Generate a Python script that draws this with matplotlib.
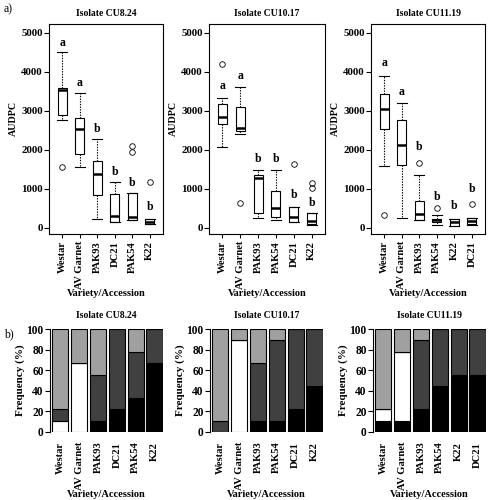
import matplotlib
matplotlib.use('Agg')
import matplotlib.pyplot as plt

plt.rcParams['font.family'] = 'serif'
plt.rcParams['font.serif'] = ['Liberation Serif', 'DejaVu Serif']
plt.rcParams['font.weight'] = 'bold'
plt.rcParams['axes.labelweight'] = 'bold'
plt.rcParams['axes.titleweight'] = 'bold'

isolates = ['Isolate CU8.24', 'Isolate CU10.17', 'Isolate CU11.19']

varieties = [
    ['Westar', 'AV Garnet', 'PAK93', 'DC21', 'PAK54', 'K22'],
    ['Westar', 'AV Garnet', 'PAK93', 'PAK54', 'DC21', 'K22'],
    ['Westar', 'AV Garnet', 'PAK93', 'PAK54', 'K22', 'DC21'],
]

# AUDPC box plot summaries, one list per isolate
whislo = [
    [2770, 1570, 220, 150, 205, 100],
    [2070, 2415, 260, 215, 147, 86],
    [1590, 257, 197, 86, 51, 86],
]
q1 = [
    [2900, 1900, 850, 160, 205, 105],
    [2655, 2485, 380, 275, 150, 90],
    [2540, 1613, 197, 154, 60, 90],
]
med = [
    [3540, 2530, 1385, 316, 274, 160],
    [2845, 2570, 1293, 500, 276, 172],
    [3063, 2128, 352, 197, 154, 172],
]
q3 = [
    [3580, 2810, 1725, 870, 890, 230],
    [3190, 3100, 1353, 948, 543, 388],
    [3441, 2771, 686, 240, 223, 257],
]
whishi = [
    [4500, 3450, 2280, 1190, 890, 230],
    [3345, 3620, 1490, 1490, 543, 388],
    [3887, 3200, 1356, 343, 223, 257],
]
fliers = [
    [[1570], [], [], [], [2100, 1960], [1190]],
    [[4200], [640], [], [], [1640], [1165, 1020]],
    [[326], [], [1673], [523], [], [609]],
]
letters = ['a', 'a', 'b', 'b', 'b', 'b']
letter_y = [
    [4750, 3730, 2530, 1445, 1145, 530],
    [3640, 3900, 1770, 1770, 840, 650],
    [4230, 3475, 2068, 798, 558, 987],
]

# frequency (%) of each class, stacked bottom to top
freq_black = [
    [0, 0, 11.1, 22.2, 33.3, 66.7],
    [0, 0, 11.1, 11.1, 22.2, 44.4],
    [11.1, 11.1, 22.2, 44.4, 55.6, 55.6],
]
freq_white = [
    [11.1, 66.7, 0, 0, 0, 0],
    [0, 88.9, 0, 0, 0, 0],
    [11.1, 66.7, 0, 0, 0, 0],
]
freq_dark = [
    [11.1, 0, 44.4, 77.8, 44.4, 33.3],
    [11.1, 0, 55.6, 77.8, 77.8, 55.6],
    [0, 0, 66.7, 55.6, 44.4, 44.4],
]
freq_light = [
    [77.8, 33.3, 44.4, 0, 22.2, 0],
    [88.9, 11.1, 33.3, 11.1, 0, 0],
    [77.8, 22.2, 11.1, 0, 0, 0],
]
freq_colors = ['#000000', '#ffffff', '#404040', '#a0a0a0']

W, H = 488, 500
fig = plt.figure(figsize=(W / 100, H / 100), dpi=100)

top_lefts = [49, 209, 371]
top_widths = [114, 116, 114]
bot_lefts = [50, 210, 373]
bot_widths = [113, 113, 113]

for i in range(3):
    # ---- a) box plots
    ax = fig.add_axes([top_lefts[i] / W, 1 - 234 / H, top_widths[i] / W, 210 / H])
    stats = []
    for j in range(6):
        stats.append({'whislo': whislo[i][j], 'q1': q1[i][j], 'med': med[i][j],
                      'q3': q3[i][j], 'whishi': whishi[i][j], 'fliers': fliers[i][j]})
    ax.bxp(stats, positions=range(6), widths=0.5, capwidths=0.55, patch_artist=True,
           boxprops=dict(facecolor='white', edgecolor='black', linewidth=0.8),
           whiskerprops=dict(color='black', linestyle=(0, (1.2, 1.2)), linewidth=0.8),
           capprops=dict(color='black', linewidth=0.8),
           medianprops=dict(color='black', linewidth=1.8),
           flierprops=dict(marker='o', markersize=4, markerfacecolor='none',
                           markeredgecolor='black', markeredgewidth=0.6))
    for j in range(6):
        ax.text(j, letter_y[i][j], letters[j], ha='center', va='center', fontsize=8.5)
    ax.set_xlim(-0.75, 5.75)
    ax.set_ylim(-154, 5230)
    ax.set_yticks([0, 1000, 2000, 3000, 4000, 5000])
    ax.set_xticks(range(6))
    ax.set_xticklabels(varieties[i], rotation=90)
    ax.tick_params(axis='y', labelsize=7.8, length=3.5, width=0.8, pad=1)
    ax.tick_params(axis='x', labelsize=7.6, length=3, width=0.8, pad=2)
    ax.set_ylabel('AUDPC', fontsize=7.2)
    ax.yaxis.set_label_coords(-0.27, 0.55)
    ax.set_xlabel('Variety/Accession', fontsize=7.5, labelpad=0)
    ax.set_title(isolates[i], fontsize=6.9, pad=6)
    for s in ax.spines.values():
        s.set_linewidth(0.8)

    # ---- b) stacked frequency bars
    bx = fig.add_axes([bot_lefts[i] / W, 1 - 432 / H, bot_widths[i] / W, 103 / H])
    bottom = [0] * 6
    for vals, c in zip([freq_black[i], freq_white[i], freq_dark[i], freq_light[i]], freq_colors):
        bx.bar(range(6), vals, width=0.86, bottom=bottom, color=c,
               edgecolor='black', linewidth=0.8)
        bottom = [b + v for b, v in zip(bottom, vals)]
    bx.set_xlim(-0.55, 5.45)
    bx.set_ylim(0, 100)
    bx.set_yticks([0, 20, 40, 60, 80, 100])
    bx.set_xticks(range(6))
    bx.set_xticklabels(varieties[i], rotation=90)
    bx.tick_params(axis='y', labelsize=8.3, length=3.5, width=0.8, pad=1)
    bx.tick_params(axis='x', labelsize=7.6, length=0, pad=7)
    for s in ['top', 'right', 'bottom']:
        bx.spines[s].set_visible(False)
    bx.spines['left'].set_linewidth(0.8)
    bx.set_ylabel('Frequency (%)', fontsize=8, labelpad=1)
    bx.set_xlabel('Variety/Accession', fontsize=7.5, labelpad=0)
    bx.set_title(isolates[i], fontsize=6.9, pad=8)

fig.text(4 / W, 1 - 9 / H, 'a)', fontsize=8.5, fontweight='normal', va='center')
fig.text(4 / W, 1 - 334 / H, 'b)', fontsize=8.5, fontweight='normal', va='center')

fig.savefig('out.png', dpi=100)
